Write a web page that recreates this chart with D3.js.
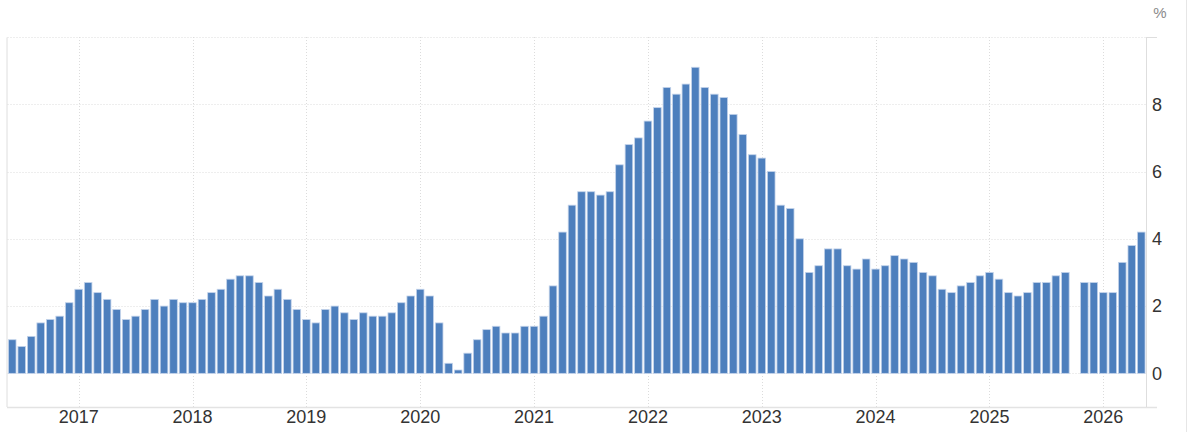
<!DOCTYPE html>
<html>
<head>
<meta charset="utf-8">
<script src="https://cdn.jsdelivr.net/npm/d3@7"></script>
<style>
  html, body { margin: 0; padding: 0; background: #ffffff; }
  svg { display: block; font-family: "Liberation Sans", Arial, sans-serif; }
</style>
</head>
<body>
<svg id="chart" width="1197" height="432"></svg>
<script>
// Monthly series from Jun 2016 to May 2026 (null = missing month)
const startYear = 2016, startMonth = 6;
const values = [
  1.0, 0.8, 1.1, 1.5, 1.6, 1.7, 2.1,                          // 2016 Jun-Dec
  2.5, 2.7, 2.4, 2.2, 1.9, 1.6, 1.7, 1.9, 2.2, 2.0, 2.2, 2.1, // 2017
  2.1, 2.2, 2.4, 2.5, 2.8, 2.9, 2.9, 2.7, 2.3, 2.5, 2.2, 1.9, // 2018
  1.6, 1.5, 1.9, 2.0, 1.8, 1.6, 1.8, 1.7, 1.7, 1.8, 2.1, 2.3, // 2019
  2.5, 2.3, 1.5, 0.3, 0.1, 0.6, 1.0, 1.3, 1.4, 1.2, 1.2, 1.4, // 2020
  1.4, 1.7, 2.6, 4.2, 5.0, 5.4, 5.4, 5.3, 5.4, 6.2, 6.8, 7.0, // 2021
  7.5, 7.9, 8.5, 8.3, 8.6, 9.1, 8.5, 8.3, 8.2, 7.7, 7.1, 6.5, // 2022
  6.4, 6.0, 5.0, 4.9, 4.0, 3.0, 3.2, 3.7, 3.7, 3.2, 3.1, 3.4, // 2023
  3.1, 3.2, 3.5, 3.4, 3.3, 3.0, 2.9, 2.5, 2.4, 2.6, 2.7, 2.9, // 2024
  3.0, 2.8, 2.4, 2.3, 2.4, 2.7, 2.7, 2.9, 3.0, null, 2.7, 2.7, // 2025
  2.4, 2.4, 3.3, 3.8, 4.2                                     // 2026 Jan-May
];
const months = values.map((v, i) => {
  const m = startMonth - 1 + i;
  return (startYear + Math.floor(m / 12)) + "-" + String((m % 12) + 1).padStart(2, "0");
});
const yearTicks = ["2017", "2018", "2019", "2020", "2021", "2022", "2023", "2024", "2025", "2026"];
const yTicks = [0, 2, 4, 6, 8];
const unitLabel = "%";

const data = months.map((m, i) => ({ month: m, value: values[i] }));

const svg = d3.select("#chart");
const pLeft = 7.5, pRight = 1146, pTop = 37, pBottom = 407;

const x = d3.scaleBand().domain(months).range([pLeft, pRight]).paddingInner(0.2).paddingOuter(0.1);
const y = d3.scaleLinear().domain([-1, 10]).range([pBottom, pTop]);
const cx = m => x(m) + x.bandwidth() / 2;

// page right border
svg.append("line").attr("x1", 1186.5).attr("x2", 1186.5).attr("y1", 0).attr("y2", 432)
  .attr("stroke", "#e6e6e6").attr("stroke-width", 1);

// horizontal grid (dotted)
svg.append("g").selectAll("line").data(yTicks.concat([10])).join("line")
  .attr("x1", pLeft).attr("x2", pRight)
  .attr("y1", d => Math.round(y(d)) + 0.5).attr("y2", d => Math.round(y(d)) + 0.5)
  .attr("stroke", "#dcdcdc").attr("stroke-width", 1).attr("stroke-dasharray", "1,2");

// vertical grid at year starts
svg.append("g").selectAll("line").data(yearTicks).join("line")
  .attr("x1", d => Math.round(cx(d + "-01")) + 0.5).attr("x2", d => Math.round(cx(d + "-01")) + 0.5)
  .attr("y1", pTop).attr("y2", pBottom)
  .attr("stroke", "#dcdcdc").attr("stroke-width", 1).attr("stroke-dasharray", "1,2");

// left border line
svg.append("line").attr("x1", 7).attr("x2", 7).attr("y1", pTop + 0.5).attr("y2", pBottom)
  .attr("stroke", "#dedede").attr("stroke-width", 1);

// bars
svg.append("g").selectAll("rect").data(data.filter(d => d.value !== null)).join("rect")
  .attr("x", d => x(d.month))
  .attr("width", x.bandwidth())
  .attr("y", d => y(Math.max(0, d.value)))
  .attr("height", d => Math.abs(y(d.value) - y(0)))
  .attr("fill", "#4d7fbd")
  .attr("stroke", "#c3d3ea")
  .attr("stroke-width", 0.8);

// x axis (bottom)
const xAxis = d3.axisBottom(x)
  .tickValues(yearTicks.map(yv => yv + "-01"))
  .tickFormat(d => d.slice(0, 4))
  .tickSize(0).tickPadding(4);
const gx = svg.append("g").attr("transform", `translate(0,${pBottom})`).call(xAxis);
gx.select(".domain").remove();
gx.selectAll("text").attr("font-size", 18).attr("fill", "#333333")
  .attr("font-family", "'Liberation Sans', Arial, sans-serif").attr("dy", "0.67em");
svg.append("line").attr("x1", 7).attr("x2", 1157).attr("y1", pBottom + 0.5).attr("y2", pBottom + 0.5)
  .attr("stroke", "#e3e3e3").attr("stroke-width", 1.5);

// y axis (right)
const yAxis = d3.axisRight(y).tickValues(yTicks).tickSize(0).tickPadding(6).tickFormat(d3.format("d"));
const gy = svg.append("g").attr("transform", `translate(${pRight},0)`).call(yAxis);
gy.select(".domain").remove();
gy.selectAll("text").attr("font-size", 18).attr("fill", "#333333")
  .attr("font-family", "'Liberation Sans', Arial, sans-serif");
svg.append("line").attr("x1", pRight + 0.5).attr("x2", pRight + 0.5).attr("y1", pTop).attr("y2", pBottom)
  .attr("stroke", "#dedede").attr("stroke-width", 1);
svg.append("line").attr("x1", pRight).attr("x2", 1157).attr("y1", pTop + 0.5).attr("y2", pTop + 0.5)
  .attr("stroke", "#dedede").attr("stroke-width", 1);

// unit label
svg.append("text").attr("x", 1160).attr("y", 18).attr("text-anchor", "middle")
  .attr("font-size", 15).attr("fill", "#8a8a8a").text(unitLabel);
</script>
</body>
</html>
